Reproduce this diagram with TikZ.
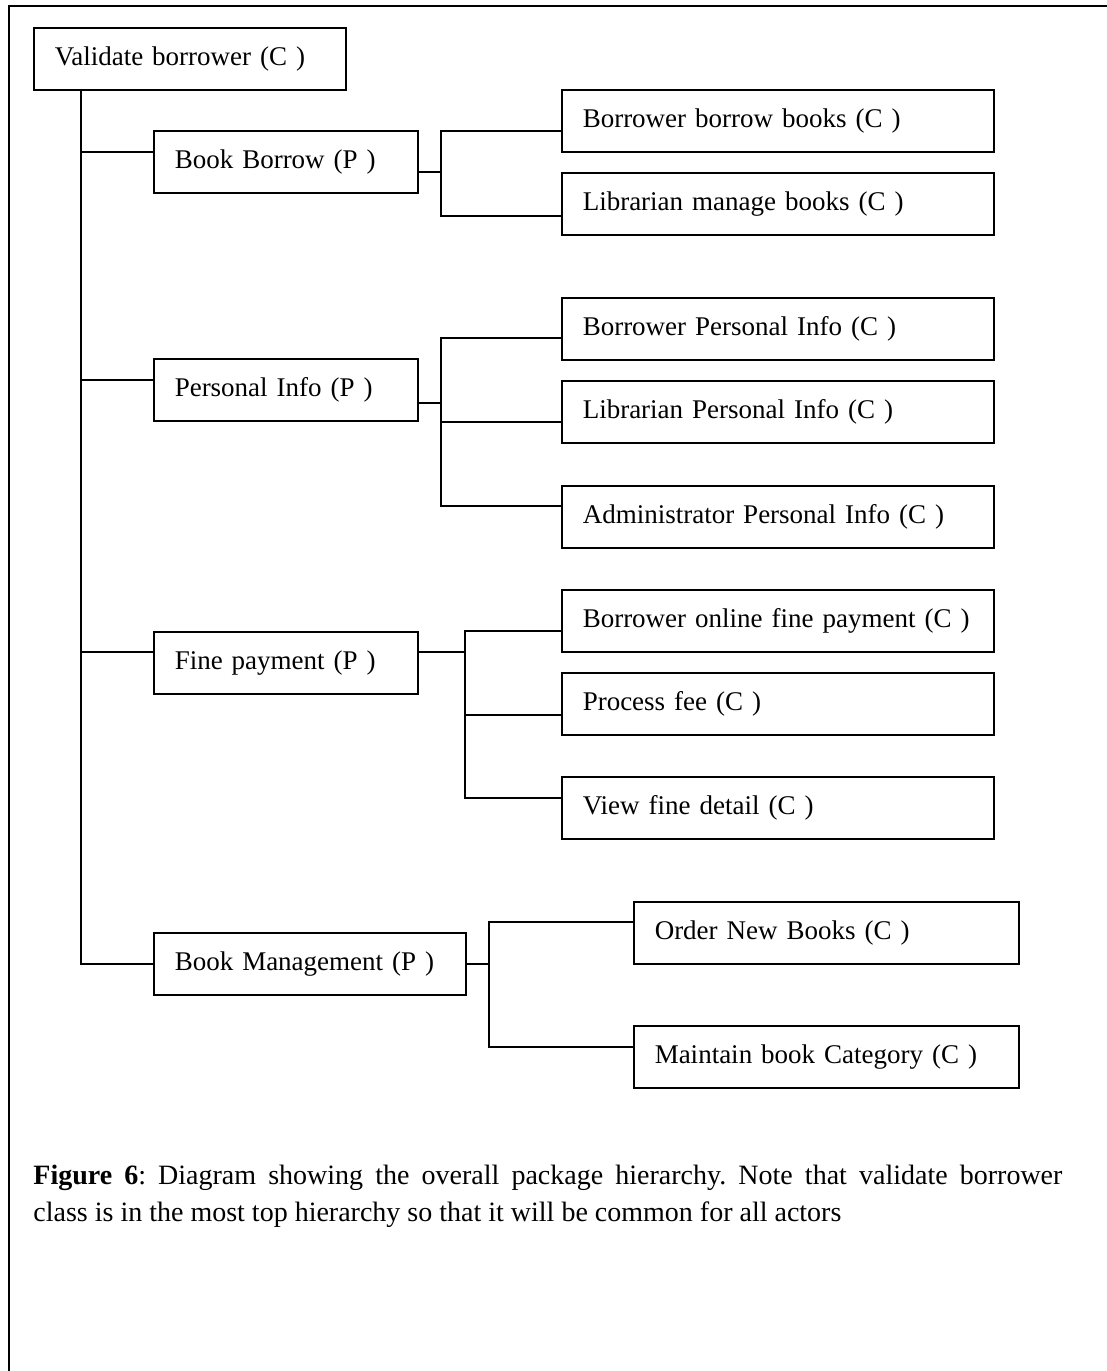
\documentclass[tikz,border=0pt]{standalone}
\usepackage{fontspec}
\setmainfont{Liberation Serif}
\frenchspacing
\begin{document}
\begin{tikzpicture}[x=0.5pt,y=-0.5pt,
  box/.style={draw, line width=0.75pt, anchor=north west, inner xsep=10.5pt,
    inner ysep=0pt, minimum height=31pt, align=left,
    font=\fontsize{13.5pt}{15pt}\selectfont},
  pbox/.style={box, text width=111pt},
  cbox/.style={box, text width=195pt},
  obox/.style={box, text width=171.5pt},
  link/.style={line width=0.75pt}]
\useasboundingbox (0,0) rectangle (1107,1371);

% outer frame (top and left edges)
\draw[line width=1pt] (8.5,1371) -- (8.5,5.5) -- (1107,5.5);

% root class
\node[box, text width=135pt] (vb) at (33,27) {Validate borrower (C )};

% packages
\node[pbox] (bb) at (153,130) {Book Borrow (P )};
\node[pbox] (pi) at (153,358) {Personal Info (P )};
\node[pbox] (fp) at (153,631) {Fine payment (P )};
\node[box, text width=135pt] (bm) at (153,932) {Book Management (P )};

% classes
\node[cbox] (c11) at (561,89)  {Borrower borrow books (C )};
\node[cbox] (c12) at (561,172) {Librarian manage books (C )};
\node[cbox] (c21) at (561,297) {Borrower Personal Info (C )};
\node[cbox] (c22) at (561,380) {Librarian Personal Info (C )};
\node[cbox] (c23) at (561,485) {Administrator Personal Info (C )};
\node[cbox] (c31) at (561,589) {Borrower online fine payment (C )};
\node[cbox] (c32) at (561,672) {Process fee (C )};
\node[cbox] (c33) at (561,776) {View fine detail (C )};
\node[obox] (c41) at (633,901) {Order New Books (C )};
\node[obox] (c42) at (633,1025) {Maintain book Category (C )};

% spine positions
\coordinate (tr) at (81,0);
\coordinate (s1) at (441,0);
\coordinate (s2) at (441,0);
\coordinate (s3) at (465,0);
\coordinate (s4) at (489,0);

% attachment points
\coordinate (bbL) at ([yshift=5pt]bb.west);
\coordinate (piL) at ([yshift=5pt]pi.west);
\coordinate (fpL) at ([yshift=5.5pt]fp.west);
\coordinate (bmL) at (bm.west);
\coordinate (bbR) at ([yshift=-5pt]bb.east);
\coordinate (piR) at ([yshift=-6.5pt]pi.east);
\coordinate (fpR) at ([yshift=5.5pt]fp.east);
\coordinate (bmR) at (bm.east);
\coordinate (c11L) at ([yshift=-5pt]c11.west);
\coordinate (c12L) at ([yshift=-6pt]c12.west);
\coordinate (c21L) at ([yshift=-4.5pt]c21.west);
\coordinate (c22L) at ([yshift=-5pt]c22.west);
\coordinate (c23L) at ([yshift=5.5pt]c23.west);
\coordinate (c31L) at ([yshift=-5pt]c31.west);
\coordinate (c32L) at ([yshift=-5.5pt]c32.west);
\coordinate (c33L) at ([yshift=5pt]c33.west);
\coordinate (c41L) at ([yshift=5.5pt]c41.west);
\coordinate (c42L) at ([yshift=5pt]c42.west);

% trunk from the root class
\draw[link] (vb.south -| tr) -- (bmL -| tr) -- (bmL);
\draw[link] (bbL -| tr) -- (bbL);
\draw[link] (piL -| tr) -- (piL);
\draw[link] (fpL -| tr) -- (fpL);

% Book Borrow branch
\draw[link] (bbR) -- (bbR -| s1);
\draw[link] (c11L) -- (c11L -| s1) -- (c12L -| s1) -- (c12L);

% Personal Info branch
\draw[link] (piR) -- (piR -| s2);
\draw[link] (c21L) -- (c21L -| s2) -- (c23L -| s2) -- (c23L);
\draw[link] (c22L -| s2) -- (c22L);

% Fine payment branch
\draw[link] (fpR) -- (fpR -| s3);
\draw[link] (c31L) -- (c31L -| s3) -- (c33L -| s3) -- (c33L);
\draw[link] (c32L -| s3) -- (c32L);

% Book Management branch
\draw[link] (bmR) -- (bmR -| s4);
\draw[link] (c41L) -- (c41L -| s4) -- (c42L -| s4) -- (c42L);

% caption
\node[anchor=north west, inner sep=0pt, text width=514.5pt, align=justify,
  font=\fontsize{14pt}{18.5pt}\selectfont] (cap) at (33,1165)
  {\textbf{Figure 6}: Diagram showing the overall package hierarchy. Note that validate borrower\linebreak class is in the most top hierarchy so that it will be common for all actors};
\end{tikzpicture}
\end{document}
